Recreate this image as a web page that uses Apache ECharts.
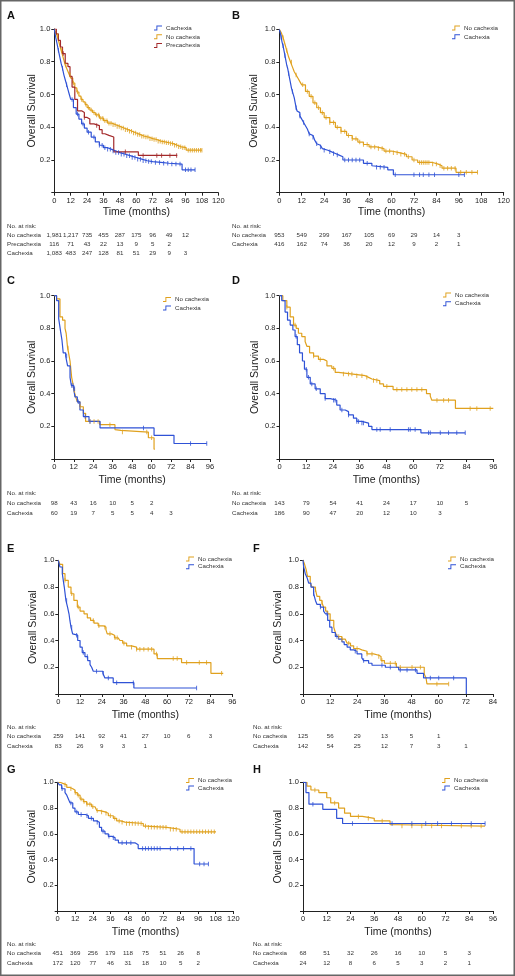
<!DOCTYPE html>
<html><head><meta charset="utf-8">
<script src="https://cdn.jsdelivr.net/npm/echarts@6/dist/echarts.min.js"></script>
<style>html,body{margin:0;padding:0;background:#fff}#c{width:515px;height:976px}</style>
</head><body><div id="c"></div>
<script>
// ---------------- DATA ----------------
const xTicks12 = [0,12,24,36,48,60,72,84,96,108,120];

// Panel A
const A_cach_t = [0,1,2,3,4,5,6,7,8,9,10,11,12,14,16,18,20,22,24,27,30,33,36,39,42,45,48,52,56,60,64,68,72,78,84,93.5,103];
const A_cach_s = [1,0.95,0.91,0.87,0.83,0.79,0.76,0.72,0.69,0.66,0.63,0.6,0.57,0.52,0.48,0.45,0.42,0.395,0.37,0.34,0.31,0.29,0.275,0.265,0.255,0.245,0.235,0.225,0.215,0.205,0.195,0.19,0.185,0.18,0.175,0.14,0.14];
const A_cach_c = [3,6,9,13,17,21,25,29,33,35,37,39,41,43,45,47,49,51,53,55,57,59,61,63,65,67,69,71,74,77,80,83,86,89,92,96,98,100,103];
const A_no_t = [0,1,2,3,4,5,6,7,8,9,10,11,12,13.5,15,16.5,18,19.5,21,22.5,24,26,28,30,33,36,39,42,45,48,51,54,57,60,63,66,69,72,75,78,81,84,87,90,93,96.5,108];
const A_no_s = [1,0.98,0.96,0.93,0.9,0.87,0.84,0.81,0.78,0.76,0.74,0.72,0.7,0.67,0.64,0.615,0.59,0.57,0.555,0.54,0.52,0.505,0.49,0.475,0.455,0.44,0.425,0.415,0.405,0.395,0.385,0.375,0.365,0.355,0.345,0.34,0.33,0.325,0.315,0.31,0.305,0.3,0.29,0.28,0.275,0.26,0.26];
const A_no_c = [2.5,5.5,8.5,11.5,14,17,20,23,25,27,29,31,32.5,34,35.5,37,38.5,40,41.5,43,44.5,46,47.5,49,50.5,52,53.5,55,56.5,58,59.5,61,62.5,64,65.5,67,68.5,70,71.5,73,74.5,76,77.5,79,80.5,82,83.5,85,86.5,88,89.5,91,92.5,94,95.5,98,99.5,101,102.5,104,105.5,107,108];
const A_pre_t = [0,1.5,3,4.5,6,8,10,11.5,13,15,17,20,22,24,26,29,33,35,37,40,43.5,61.5,90];
const A_pre_s = [1,0.97,0.93,0.89,0.85,0.79,0.77,0.71,0.645,0.57,0.5,0.49,0.46,0.45,0.42,0.41,0.385,0.36,0.35,0.34,0.25,0.228,0.228];
const A_pre_c = [6.6,22,31,52,65,75,78.5,84.6,89.5];
const A_risk_no = [1981,1217,735,455,287,175,96,49,12];
const A_risk_pre = [116,71,43,22,13,9,5,2];
const A_risk_cach = [1083,483,247,128,81,51,29,9,3];

// Panel B
const B_no_t = [0,1,2,3,4,5,6,7,8,9,10,11,12,14,16,18,20,22,24,27,30,33,36,39,42,45,48,52,56,60,64,68,71,74,78,82,85,87,94.5,106];
const B_no_s = [1,0.98,0.95,0.91,0.87,0.83,0.8,0.77,0.74,0.72,0.7,0.68,0.66,0.62,0.59,0.55,0.52,0.49,0.46,0.43,0.4,0.375,0.35,0.33,0.31,0.295,0.28,0.27,0.255,0.245,0.235,0.22,0.2,0.185,0.185,0.175,0.165,0.15,0.125,0.125];
const B_no_c = [2,4,6.5,9,12.5,15,17,19,21,23,25,27,29,31,33,35,37,39,41,43,45,47,49,51,53,55,57,59,61,63,65,67,69,72,75,76,77,78,79,80,82,84,86,88,90,92,94,97,100,103,106];
const B_cach_t = [0,0.5,1,1.5,2,2.5,3,3.5,4,4.5,5,5.5,6,6.5,7,7.5,8,8.5,9,9.5,10,11,12,13,14,15,16,17,18,19,20,21,22,23,24,26,28,30,32,34,45,49.5,50.5,58,61,99];
const B_cach_s = [1,0.98,0.95,0.92,0.9,0.87,0.84,0.81,0.78,0.76,0.73,0.7,0.67,0.64,0.62,0.6,0.58,0.55,0.52,0.5,0.49,0.47,0.45,0.43,0.41,0.39,0.36,0.35,0.34,0.32,0.3,0.29,0.28,0.27,0.26,0.25,0.24,0.23,0.22,0.2,0.18,0.165,0.155,0.14,0.11,0.11];
const B_cach_c = [1,2,3,5,7,9,11,13,16,18,20,22,24,27,29,31,35,37,39,41,43,47,52,54,56,62,72,75,77,80,83,96,99];
const B_risk_no = [953,549,299,167,105,69,29,14,3];
const B_risk_cach = [416,162,74,36,20,12,9,2,1];

// Panel C
const C_no_t = [0,1.4,3.5,5.1,6.6,7.3,8.2,8.8,9.7,10.7,11.5,12.1,13.2,14.2,15.8,17.9,19.3,28,37.4,38.5,41,58,61.5,62];
const C_no_s = [1,0.98,0.87,0.85,0.8,0.77,0.68,0.65,0.6,0.5,0.46,0.42,0.38,0.35,0.32,0.28,0.23,0.21,0.18,0.175,0.165,0.13,0.06,0.06];
const C_no_c = [8.5,12.5,16,22,24.5,27,34.3,42,57,60];
const C_cach_t = [0,1.4,2.7,3.9,4.7,5.5,7,8.2,9.7,10.5,12,12.7,14.2,15.8,17.9,21.4,28.2,61.5,73.8,94];
const C_cach_s = [1,0.97,0.86,0.78,0.73,0.65,0.63,0.57,0.5,0.45,0.43,0.38,0.35,0.3,0.26,0.23,0.19,0.145,0.095,0.095];
const C_cach_c = [7.6,10.7,11.5,12.5,14.8,19,22,55,84,94];
const C_risk_no = [98,43,16,10,5,2];
const C_risk_cach = [60,19,7,5,5,4,3];

// Panel D
const D_no_t = [0,1.5,3.3,4.8,6.3,7.5,8.5,10,11.5,12.3,13.5,15.3,17.5,19.8,21.3,23.5,25,26.5,33,38.5,40,41.5,45,46.7,51,66,67.7,68.4,79,96];
const D_no_s = [1,0.97,0.93,0.87,0.82,0.8,0.77,0.75,0.72,0.69,0.65,0.63,0.61,0.6,0.57,0.555,0.53,0.52,0.51,0.5,0.49,0.48,0.46,0.445,0.425,0.4,0.385,0.36,0.31,0.31];
const D_no_c = [3.3,7,15.3,18.3,24.3,28.7,31,32.5,34.7,37,39.2,42.2,43.7,48.2,52.7,54.9,57.2,59.4,61.7,63.9,70.7,73.7,75.9,85.6,88.6,94.6];
const D_cach_t = [0,1,2.5,3.6,4.8,6,7,8,9,10.3,11.2,12.3,13.8,16,18.3,20.5,22.8,25.7,27.2,29.5,31,33.2,34.7,37,40,41.5,63.5,83.4];
const D_cach_s = [1,0.97,0.9,0.85,0.82,0.79,0.75,0.7,0.65,0.6,0.55,0.5,0.46,0.43,0.4,0.37,0.36,0.33,0.3,0.29,0.27,0.25,0.23,0.22,0.2,0.18,0.16,0.16];
const D_cach_c = [7.5,12,13,14.5,16.5,20.5,24.3,25,28,31,34.7,35.5,37,37.7,43.7,45.2,49.7,57.9,58.7,60.9,66.9,67.7,72.2,75.9,79.6,83.4];
const D_risk_no = [143,79,54,41,24,17,10,5];
const D_risk_cach = [186,90,47,20,12,10,3];

// Panel E
const E_no_t = [0,0.9,2.4,3.7,5.5,7,8.6,10.5,12,14.2,16,17.8,19.7,22,24.8,26.3,27,29.4,31,33,34,35.5,37.7,40.4,43.2,52.8,54.6,68,84.2,91];
const E_no_s = [1,0.97,0.9,0.85,0.8,0.75,0.7,0.65,0.62,0.6,0.57,0.55,0.53,0.51,0.5,0.48,0.45,0.44,0.42,0.41,0.4,0.38,0.36,0.35,0.335,0.3,0.265,0.235,0.155,0.155];
const E_no_c = [3.7,7.4,11,19.3,22.4,25.7,28.5,31.3,32.5,36.2,40.4,43.2,45,47.2,49.6,51.5,54.2,63.4,65.6,70.8,77.8,81.8,90.1];
const E_cach_t = [0,0.9,2.2,3.3,4.2,5.1,5.9,6.4,7,7.9,9,10.7,12,13.2,14.7,16.2,17.5,18.4,19.3,24.6,25.7,30.3,41.7,76.3];
const E_cach_s = [1,0.95,0.9,0.8,0.7,0.65,0.6,0.55,0.5,0.45,0.44,0.4,0.35,0.31,0.28,0.25,0.22,0.2,0.17,0.155,0.12,0.085,0.045,0.045];
const E_cach_c = [4.6,7.4,10.1,13.8,16,21.1,24.8,27.6,32.2,41.4,76.3];
const E_risk_no = [259,141,92,41,27,10,6,3];
const E_risk_cach = [83,26,9,3,1];

// Panel F
const F_no_t = [0,0.7,1.4,2,3.2,4,5.5,6.2,7.4,8.4,9.1,10,10.9,12,13.6,14.3,15,17.2,18.7,19.5,21,22.4,24.6,26,28.3,31.2,33.5,34.5,36,41.3,53.6,54.4,54.8,64.4];
const F_no_s = [1,0.97,0.93,0.88,0.83,0.8,0.78,0.73,0.7,0.68,0.65,0.62,0.6,0.55,0.5,0.46,0.43,0.41,0.4,0.38,0.36,0.34,0.33,0.32,0.3,0.29,0.28,0.25,0.23,0.2,0.15,0.12,0.075,0.075];
const F_no_c = [5.5,8.4,15.8,17.2,20.2,23.9,28.3,30.5,33.5,34.9,38.6,40.8,43,48.2,51.9,59.2,64.4];
const F_cach_t = [0,0.3,1,1.8,2.5,3.5,4.7,5.5,6.2,7.7,9.1,9.9,10.9,11.8,12.8,14.3,15.7,17.2,18.2,19.5,20.9,22.4,23.9,26,26.8,29,30.5,36.4,42.3,50.4,53.3,72.2];
const F_cach_s = [1,0.95,0.9,0.87,0.83,0.8,0.75,0.7,0.67,0.65,0.62,0.6,0.55,0.5,0.46,0.43,0.41,0.39,0.37,0.35,0.33,0.32,0.3,0.27,0.25,0.23,0.215,0.2,0.18,0.155,0.12,0];
const F_cach_c = [4.7,7.7,10.6,15,23.1,26.8,34.9,38.6,43,46,49.7,56.3,60,66.6];
const F_risk_no = [125,56,29,13,5,1];
const F_risk_cach = [142,54,25,12,7,3,1];

// Panel G
const G_no_t = [0,1.6,3.9,6.2,8.4,10.3,11.8,13.4,15.3,17.5,19.8,23.2,25.5,26.7,28.9,32.3,34.6,38,40.3,43,46,58.5,60.8,74.5,75.6,83.6,108.2];
const G_no_s = [1,0.99,0.98,0.96,0.95,0.94,0.92,0.9,0.87,0.85,0.83,0.81,0.8,0.78,0.77,0.76,0.74,0.72,0.7,0.69,0.68,0.66,0.65,0.64,0.635,0.615,0.615];
const G_no_c = [5,9,12,14,16,18,20,22,24,27,30,33,36,39,42,44,47,49,51,53,55,57,60,62,64,66,68,70,72,74,77,79,81,85,87,89,91,93,95,97,99,101,103,105,107];
const G_cach_t = [0,1.1,2.7,5,6.2,7.3,8.4,10.3,11.8,14.1,19,21,24.4,26.5,28.5,30,32.3,34.6,37,39.2,41.5,52.8,55,93.2,103];
const G_cach_s = [1,0.98,0.95,0.92,0.9,0.87,0.84,0.8,0.77,0.75,0.74,0.72,0.7,0.69,0.65,0.62,0.6,0.58,0.57,0.55,0.53,0.515,0.485,0.365,0.365];
const G_cach_c = [3,9,13,16,20,23,27,31,35,38,44,47,50,58,60,62,64,66,68,70,77,82,86,91,97,100,103];
const G_risk_no = [451,369,256,179,118,75,51,26,8];
const G_risk_cach = [172,120,77,46,31,18,10,5,2];

// Panel H
const H_no_t = [0,2,4,8,12,14,18,21,24,30,36,44,48,92];
const H_no_s = [1,0.97,0.94,0.92,0.88,0.84,0.8,0.76,0.735,0.72,0.7,0.67,0.66,0.66];
const H_no_c = [6,16,28,33,40,50,55,60,65,70,80,85,90];
const H_cach_t = [0,1.5,3,10,17,20,92];
const H_cach_s = [1,0.92,0.83,0.79,0.72,0.68,0.68];
const H_cach_c = [5,25,45,55,62,68,75,85,92];
const H_risk_no = [68,51,32,26,16,10,5,3];
const H_risk_cach = [24,12,8,6,5,3,2,1];

// ---------------- STRUCTURE ----------------
const colors = {'No cachexia':'#E0A11E','Cachexia':'#2F52D6','Precachexia':'#A3292A'};
const panels = [
 {letter:'A', xMax:120, legend:['Cachexia','No cachexia','Precachexia'],
  curves:[['No cachexia',A_no_t,A_no_s,A_no_c],['Cachexia',A_cach_t,A_cach_s,A_cach_c],['Precachexia',A_pre_t,A_pre_s,A_pre_c]],
  risk:[['No cachexia',A_risk_no],['Precachexia',A_risk_pre],['Cachexia',A_risk_cach]]},
 {letter:'B', xMax:120, legend:['No cachexia','Cachexia'],
  curves:[['No cachexia',B_no_t,B_no_s,B_no_c],['Cachexia',B_cach_t,B_cach_s,B_cach_c]],
  risk:[['No cachexia',B_risk_no],['Cachexia',B_risk_cach]]},
 {letter:'C', xMax:96, legend:['No cachexia','Cachexia'],
  curves:[['No cachexia',C_no_t,C_no_s,C_no_c],['Cachexia',C_cach_t,C_cach_s,C_cach_c]],
  risk:[['No cachexia',C_risk_no],['Cachexia',C_risk_cach]]},
 {letter:'D', xMax:96, legend:['No cachexia','Cachexia'],
  curves:[['No cachexia',D_no_t,D_no_s,D_no_c],['Cachexia',D_cach_t,D_cach_s,D_cach_c]],
  risk:[['No cachexia',D_risk_no],['Cachexia',D_risk_cach]]},
 {letter:'E', xMax:96, legend:['No cachexia','Cachexia'],
  curves:[['No cachexia',E_no_t,E_no_s,E_no_c],['Cachexia',E_cach_t,E_cach_s,E_cach_c]],
  risk:[['No cachexia',E_risk_no],['Cachexia',E_risk_cach]]},
 {letter:'F', xMax:84, legend:['No cachexia','Cachexia'],
  curves:[['No cachexia',F_no_t,F_no_s,F_no_c],['Cachexia',F_cach_t,F_cach_s,F_cach_c]],
  risk:[['No cachexia',F_risk_no],['Cachexia',F_risk_cach]]},
 {letter:'G', xMax:120, legend:['No cachexia','Cachexia'],
  curves:[['No cachexia',G_no_t,G_no_s,G_no_c],['Cachexia',G_cach_t,G_cach_s,G_cach_c]],
  risk:[['No cachexia',G_risk_no],['Cachexia',G_risk_cach]]},
 {letter:'H', xMax:96, legend:['No cachexia','Cachexia'],
  curves:[['No cachexia',H_no_t,H_no_s,H_no_c],['Cachexia',H_cach_t,H_cach_s,H_cach_c]],
  risk:[['No cachexia',H_risk_no],['Cachexia',H_risk_cach]]}
];

// ---------------- LAYOUT (positions / sizes) ----------------
const layout = [
 {grid:[54.3,29,164,163.7], xGap:14, yGap:17, leg:[154,25,9.8], let:[7,16], rx:7, ry:[226,235,244,253]},
 {grid:[279.3,29.3,224.4,163.4], xGap:14, yGap:20, leg:[452,25,9.8], let:[232,16], rx:232, ry:[226,235,244.5]},
 {grid:[54.3,295.7,155.7,163.3], xGap:16, yGap:17, leg:[163,296.5,9.6], let:[7,281], rx:7, ry:[493,503,513.5]},
 {grid:[279.5,295.7,213.8,163.3], xGap:16, yGap:19, leg:[443,292,9.7], let:[232,281], rx:232, ry:[493,503,513.5]},
 {grid:[58.3,560.3,174,133.7], xGap:16, yGap:20, leg:[186,556,8.7], let:[7,549], rx:7, ry:[727,736.7,746]},
 {grid:[303,560.3,190,133.7], xGap:16, yGap:19, leg:[448,556,8.7], let:[253,549], rx:253, ry:[727,736.7,746]},
 {grid:[57.7,782.3,175.6,128.7], xGap:16, yGap:20, leg:[186,777.5,8.6], let:[7,769.5], rx:7, ry:[944,953.7,963]},
 {grid:[303,782.3,190,128.7], xGap:16, yGap:19, leg:[442,777.5,8.6], let:[253,770], rx:253, ry:[944,953.7,963]}
];

const NARROW = "'Liberation Sans Narrow','Liberation Sans',Arial,sans-serif";
const SANS = "'Liberation Sans',Arial,sans-serif";
const AX = '#222';
const stepIcon = 'path://M0,5 L3,5 L3,0 L10,0 L10,1.2 L4.2,1.2 L4.2,6.2 L0,6.2 Z';

function sAt(ts, ss, t){ let v = ss[0]; for (let i=0;i<ts.length;i++){ if (ts[i] <= t) v = ss[i]; else break; } return v; }

const grids=[], xAxes=[], yAxes=[], series=[], legends=[];
panels.forEach((p,i)=>{
  const L = layout[i];
  grids.push({left:L.grid[0], top:L.grid[1], width:L.grid[2], height:L.grid[3], containLabel:false, outerBoundsMode:'none'});
  xAxes.push({type:'value', gridIndex:i, min:0, max:p.xMax, interval:12,
    axisLine:{show:true, onZero:false, lineStyle:{color:AX, width:1}},
    axisTick:{show:true, length:3, lineStyle:{color:AX, width:1}},
    axisLabel:{fontSize:7.5, color:AX, margin:4, fontFamily:NARROW},
    splitLine:{show:false},
    name:'Time (months)', nameLocation:'middle', nameGap:L.xGap, nameMoveOverlap:false,
    nameTextStyle:{fontSize:10.5, color:AX, fontFamily:NARROW}});
  yAxes.push({type:'value', gridIndex:i, min:0, max:1, interval:0.2,
    axisLine:{show:true, onZero:false, lineStyle:{color:AX, width:1}},
    axisTick:{show:true, length:3, lineStyle:{color:AX, width:1}},
    axisLabel:{fontSize:7.5, color:AX, margin:4, fontFamily:NARROW, formatter:v=> v===0 ? '' : v.toFixed(1)},
    splitLine:{show:false},
    name:'Overall Survival', nameLocation:'middle', nameGap:L.yGap, nameMoveOverlap:false,
    nameTextStyle:{fontSize:10.5, color:AX, fontFamily:NARROW}});
  p.curves.forEach(([name,t,s,c])=>{
    const col = colors[name];
    series.push({type:'line', name:name, xAxisIndex:i, yAxisIndex:i, step:'end', symbol:'none', showSymbol:false,
      data:t.map((x,k)=>[x,s[k]]), lineStyle:{color:col, width:1.2}, itemStyle:{color:col},
      silent:true, animation:false, z:3});
    series.push({type:'scatter', name:name+' censored', xAxisIndex:i, yAxisIndex:i, symbol:'rect', symbolSize:[1,4.5],
      data:c.map(x=>[x, sAt(t,s,x)]), itemStyle:{color:col}, silent:true, animation:false, z:4});
  });
  legends.push({data:p.legend, left:L.leg[0], top:L.leg[1], orient:'vertical', itemWidth:8, itemHeight:5,
    itemGap:L.leg[2]-7, icon:stepIcon, selectedMode:false, padding:0,
    textStyle:{fontSize:6.2, color:'#333', fontFamily:SANS, padding:[0,0,0,-1]}});
});

const chart = echarts.init(document.getElementById('c'), null, {renderer:'canvas'});
chart.setOption({backgroundColor:'#fff', animation:false, grid:grids, xAxis:xAxes, yAxis:yAxes, series:series, legend:legends});

// graphics: letters, at-risk tables, border
const gfx = [];
gfx.push({type:'rect', shape:{x:0.75,y:0.75,width:513.5,height:974.5}, style:{fill:'none', stroke:'#666', lineWidth:1.5}, silent:true});
panels.forEach((p,i)=>{
  const L = layout[i];
  gfx.push({type:'text', x:L.let[0], y:L.let[1], style:{text:p.letter, fontSize:11, fontWeight:'bold', fontFamily:SANS, fill:'#111', align:'left', verticalAlign:'middle'}, silent:true});
  gfx.push({type:'text', x:L.rx, y:L.ry[0], style:{text:'No. at risk:', fontSize:6.2, fontFamily:SANS, fill:'#333', align:'left', verticalAlign:'middle'}, silent:true});
  p.risk.forEach(([name,vals],r)=>{
    const y = L.ry[r+1];
    gfx.push({type:'text', x:L.rx, y:y, style:{text:name, fontSize:6.2, fontFamily:SANS, fill:'#333', align:'left', verticalAlign:'middle'}, silent:true});
    vals.forEach((v,k)=>{
      const px = chart.convertToPixel({xAxisIndex:i}, xTicks12[k]);
      gfx.push({type:'text', x:px, y:y, style:{text:v.toLocaleString('en-US'), fontSize:6.2, fontFamily:SANS, fill:'#333', align:'center', verticalAlign:'middle'}, silent:true});
    });
  });
});
chart.setOption({graphic:gfx});
</script></body></html>
